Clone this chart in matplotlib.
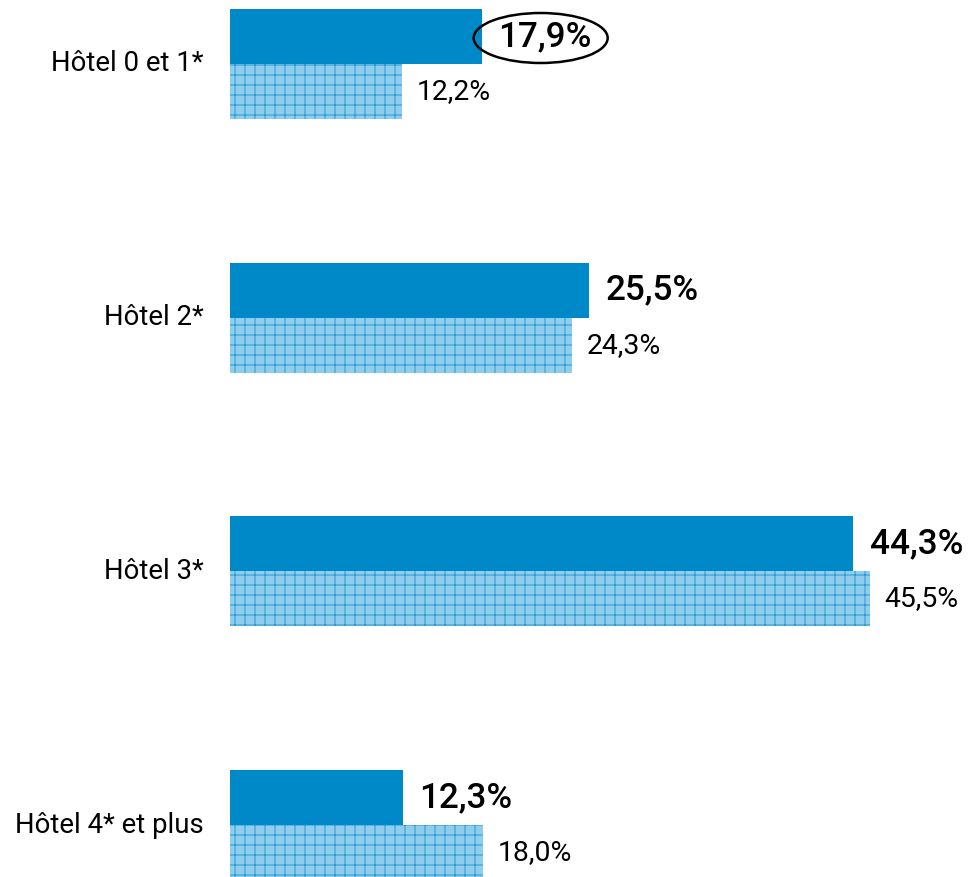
import matplotlib
matplotlib.use("Agg")
import matplotlib.pyplot as plt
from matplotlib.patches import Ellipse
import numpy as np

categories = ["Hôtel 0 et 1*", "Hôtel 2*", "Hôtel 3*", "Hôtel 4* et plus"]
series_dark = [17.9, 25.5, 44.3, 12.3]
series_light = [12.2, 24.3, 45.5, 18.0]
labels_dark = ["17,9%", "25,5%", "44,3%", "12,3%"]
labels_light = ["12,2%", "24,3%", "45,5%", "18,0%"]
circled = 0  # index of the value circled in the original

plt.rcParams['font.family'] = ['Roboto', 'DejaVu Sans']
plt.rcParams['hatch.linewidth'] = 0.6

W, H, DPI = 976, 877, 120
fig = plt.figure(figsize=(W / DPI, H / DPI), dpi=DPI)
ax = fig.add_axes([230 / W, 0, 1 - 230 / W, 1])

pitch = 253.67  # px between groups
h = 55 / pitch  # bar height in group units
y = np.arange(len(categories))

ax.barh(y - h / 2, series_dark, height=h, color='#0089c9', linewidth=0)
ax.barh(y + h / 2, series_light, height=h, color='#8fcdec',
        edgecolor='#2b9bd5', hatch='++', linewidth=0)

for i in range(len(categories)):
    ax.annotate(labels_dark[i], (series_dark[i], y[i] - h / 2),
                xytext=(10, 0), textcoords='offset points',
                va='center', ha='left', fontsize=21, fontweight='medium',
                color='black')
    ax.annotate(labels_light[i], (series_light[i], y[i] + h / 2),
                xytext=(9, 0), textcoords='offset points',
                va='center', ha='left', fontsize=17, color='black')
    ax.annotate(categories[i], (0, y[i]), xytext=(-16, 0),
                textcoords='offset points', va='center', ha='right',
                fontsize=16.5, color='black', annotation_clip=False)

# ellipse around the highlighted value
px = 14.06  # px per percent
e = Ellipse((series_dark[circled] + 59 / px, y[circled] - h / 2 + 1.5 / pitch),
            width=134 / px, height=50 / pitch, fill=False,
            edgecolor='black', linewidth=1.5, clip_on=False)
ax.add_patch(e)

ax.set_xlim(0, (W - 230) / px)
ax.set_ylim((H - 64) / pitch, -64 / pitch)
ax.axis('off')

fig.savefig('out.png', dpi=DPI)
